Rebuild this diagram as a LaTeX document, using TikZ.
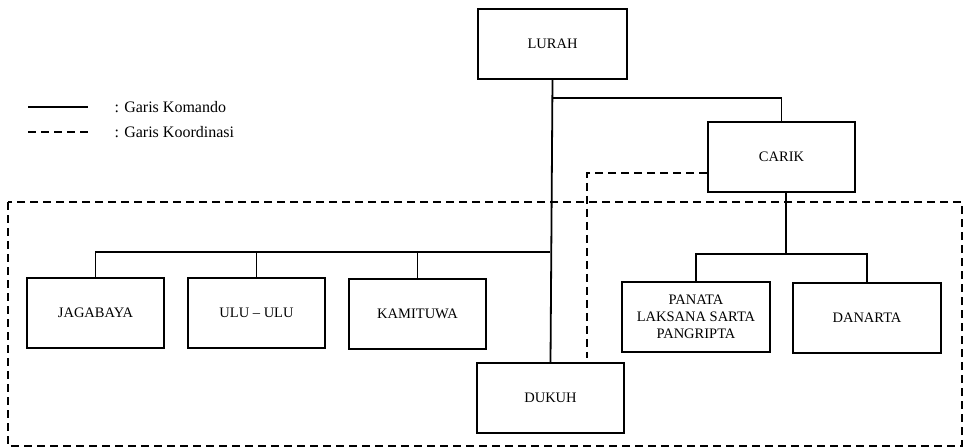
\documentclass[tikz,border=0pt]{standalone}
\usepackage{fontspec}
\setmainfont{Liberation Serif}
\usepackage{tikz}
\usetikzlibrary{positioning, calc}
\tikzstyle{Box} = [
draw, line width=1.8pt,
minimum width=137pt, minimum height=70pt,
align=center, inner sep=2pt,
font=\fontsize{14.5}{17}\selectfont]
\tikzstyle{Line} = [line width=1.8pt]
\tikzstyle{Dash} = [line width=1.8pt, dash pattern=on 8pt off 5pt]

\begin{document}
\begin{tikzpicture}[x=1pt, y=-1pt]
    \useasboundingbox (0,0) rectangle (966,447);
    \node [Box, minimum width=149pt] (1) at (552.5,44) {LURAH};
    \node [Box, minimum width=147pt] (2) at (781.5,157) {CARIK};
    \node [Box] (3) at (95.5,313) {JAGABAYA};
    \node [Box] (4) at (256.5,313) {ULU -- ULU};
    \node [Box] (5) at (417.5,314) {KAMITUWA};
    \node [Box, minimum width=148pt] (6) at (696,317) {PANATA\\LAKSANA SARTA\\PANGRIPTA};
    \node [Box, minimum width=148pt] (7) at (867,318) {DANARTA};
    \node [Box, minimum width=147pt] (8) at (550.5,398) {DUKUH};

    % legend
    \coordinate (l1) at (28,107);
    \coordinate (l2) at (88,107);
    \coordinate (l3) at (28,132);
    \coordinate (l4) at (88,132);
    \node [anchor=west, font=\fontsize{16}{18}\selectfont] (9) at (111,107) {: Garis Komando};
    \node [anchor=west, font=\fontsize{16}{18}\selectfont] (10) at (111,132) {: Garis Koordinasi};
    \draw[Line] (l1)--(l2);
    \draw[Dash] (l3)--(l4);

    % garis komando
    \coordinate (a) at (550,252);
    \coordinate (c) at (786,254);
    \draw[Line] (1.south)--(8.north);
    \draw[Line] (1.south) ++(0,18) -| (2.north);
    \draw[Line] (3.north) |- (a);
    \draw[Line] (4.north) -- (4.north |- a);
    \draw[Line] (5.north) -- (5.north |- a);
    \draw[Line] (2.south -| c) -- (c);
    \draw[Line] (6.north) |- (c) -| (7.north);

    % garis koordinasi
    \coordinate (d) at (587,358);
    \draw[Dash] (2.west) ++(0,16) -| (d);
    \draw[Dash] (8,202) rectangle (962,446);
\end{tikzpicture}
\end{document}
